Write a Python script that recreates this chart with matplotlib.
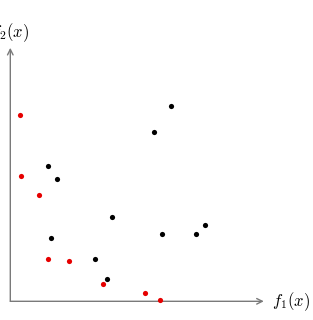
import matplotlib
matplotlib.use("Agg")
import matplotlib.pyplot as plt

plt.rcParams["mathtext.fontset"] = "cm"

# objective values, in chart units (origin at the axis corner)
red_f1 = [10, 10.7, 28.4, 37.7, 58.7, 92.7, 135, 149.7]
red_f2 = [186.3, 125.3, 106.6, 42.3, 40.6, 17, 8.6, 1.1]

black_f1 = [160.7, 143.4, 37.7, 47, 101.4, 41, 84.4, 97, 152, 185.7, 194.7]
black_f2 = [195, 169.3, 135.6, 122.6, 84.6, 63.6, 42.3, 22, 67.6, 67.6, 76.3]

x_label = "$f_1(x)$"
y_label = "$f_2(x)$"

fig = plt.figure(figsize=(3.13, 3.20), dpi=100)
ax = fig.add_axes([0, 0, 1, 1])
ax.set_xlim(-10.3, 302.7)
ax.set_ylim(-18.7, 301.3)
ax.axis("off")

# axes as arrows
arrow = dict(arrowstyle="->", color="#7a7a7a", lw=1.0, shrinkA=0, shrinkB=0)
ax.annotate("", xy=(253.5, 0), xytext=(0, 0), arrowprops=arrow)
ax.annotate("", xy=(0, 253.5), xytext=(0, 0), arrowprops=arrow)

ax.text(261.5, -0.5, x_label, fontsize=12, ha="left", va="center")
ax.text(0, 269, y_label, fontsize=12, ha="center", va="center")

ax.scatter(black_f1, black_f2, s=14, color="black", zorder=3, linewidths=0)
ax.scatter(red_f1, red_f2, s=14, color="#e60000", zorder=3, linewidths=0)

plt.savefig("out.png", dpi=100)
